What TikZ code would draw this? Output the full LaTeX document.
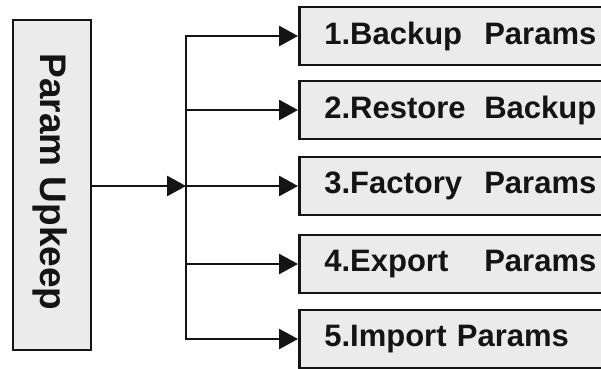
\documentclass[tikz,border=0pt]{standalone}
\usepackage{fontspec}
\setmainfont{Liberation Sans}
\usetikzlibrary{arrows.meta}
\definecolor{boxfill}{HTML}{EBEBEB}
\definecolor{ink}{HTML}{141414}
\tikzset{
  optbox/.style={draw=ink, line width=2.6pt, fill=boxfill, rectangle, anchor=west,
    minimum height=58pt, text width=300pt, align=left, inner xsep=25pt, inner ysep=0pt,
    font=\fontsize{31}{34}\selectfont\bfseries, text=ink},
  mainbox/.style={draw=ink, line width=2.6pt, fill=boxfill, rectangle,
    minimum width=78pt, minimum height=330pt},
  conn/.style={draw=ink, line width=2.8pt, -{Triangle[length=19pt,width=20pt]}},
}
\newcommand{\firstw}[1]{\makebox[160pt][l]{#1}}
\begin{document}
\begin{tikzpicture}[x=1pt,y=-1pt]
\useasboundingbox (0,0) rectangle (601,368);
\clip (0,0) rectangle (601,368);
\fill[white] (0,0) rectangle (601,368);
\node[mainbox] (pu) at (52,185) {};
\node[rotate=-90, anchor=base, font=\fontsize{37}{40}\selectfont\bfseries, text=ink] (pul) at (40,182) {Param Upkeep};
\node[optbox] (b1) at (298,36) {\firstw{1.Backup}Params};
\node[optbox] (b2) at (298,110) {\firstw{2.Restore}Backup};
\node[optbox] (b3) at (298,186) {\firstw{3.Factory}Params};
\node[optbox] (b4) at (298,264) {\firstw{4.Export}Params};
\node[optbox] (b5) at (298,339) {5.Import Params};
\coordinate (j) at (186,186);
\draw[conn] (pu.east |- j) -- (j);
\draw[conn] (j) |- (b1.west);
\draw[conn] (j) |- (b2.west);
\draw[conn] (j) -- (b3.west);
\draw[conn] (j) |- (b4.west);
\draw[conn] (j) |- (b5.west);
\end{tikzpicture}
\end{document}
